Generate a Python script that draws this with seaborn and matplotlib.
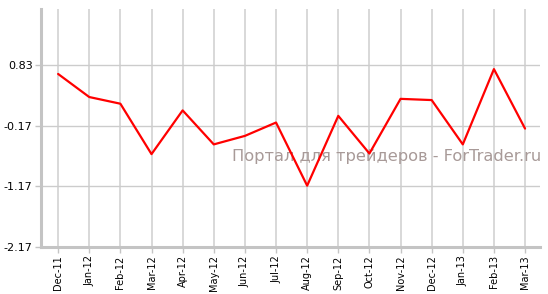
import matplotlib
matplotlib.use("Agg")
import matplotlib.pyplot as plt
import seaborn as sns
import pandas as pd

months = ["Dec-11", "Jan-12", "Feb-12", "Mar-12", "Apr-12", "May-12", "Jun-12", "Jul-12",
          "Aug-12", "Sep-12", "Oct-12", "Nov-12", "Dec-12", "Jan-13", "Feb-13", "Mar-13"]
values = [0.68, 0.30, 0.19, -0.64, 0.08, -0.48, -0.34, -0.12,
          -1.16, -0.01, -0.63, 0.27, 0.25, -0.48, 0.76, -0.22]
y_ticks = [0.83, -0.17, -1.17, -2.17]
y_tick_labels = ["0.83", "-0.17", "-1.17", "-2.17"]

sns.set_style("white")
plt.rcParams['font.family'] = ['DejaVu Sans']

df = pd.DataFrame({"idx": range(len(months)), "value": values})

fig = plt.figure(figsize=(5.48, 2.94), dpi=100)
ax = fig.add_axes([41/548, 1-247/294, (540-41)/548, (247-9)/294])

ax.set_xlim(-0.55, len(months) - 1 + 0.48)
ax.set_ylim(-2.17, 1.75)

for i in range(len(months)):
    ax.axvline(i, color="#d8d8d8", lw=1.4, zorder=1)
for v in y_ticks:
    ax.axhline(v, color="#cccccc", lw=1.0, zorder=1)

sns.lineplot(data=df, x="idx", y="value", color="#ff0000", lw=1.6, ax=ax, zorder=3)

ax.set_xticks(range(len(months)))
ax.set_xticklabels(months, rotation=90, fontsize=7)
ax.set_yticks(y_ticks)
ax.set_yticklabels(y_tick_labels, fontsize=8)
ax.set_xlabel("")
ax.set_ylabel("")
ax.grid(False)

for s in ["top", "right"]:
    ax.spines[s].set_visible(False)
for s in ["left", "bottom"]:
    ax.spines[s].set_color("#c4c4c4")
    ax.spines[s].set_linewidth(2.2)
ax.tick_params(axis="both", which="both", length=4, width=1, color="#c4c4c4",
               left=True, bottom=True, pad=2, labelcolor="black")

ax.text(541/548, 1-157/294, "Портал для трейдеров - ForTrader.ru",
        transform=fig.transFigure, ha="right", va="center",
        fontsize=11.7, color="#a89a98", zorder=2)

fig.savefig("out.png", dpi=100)
